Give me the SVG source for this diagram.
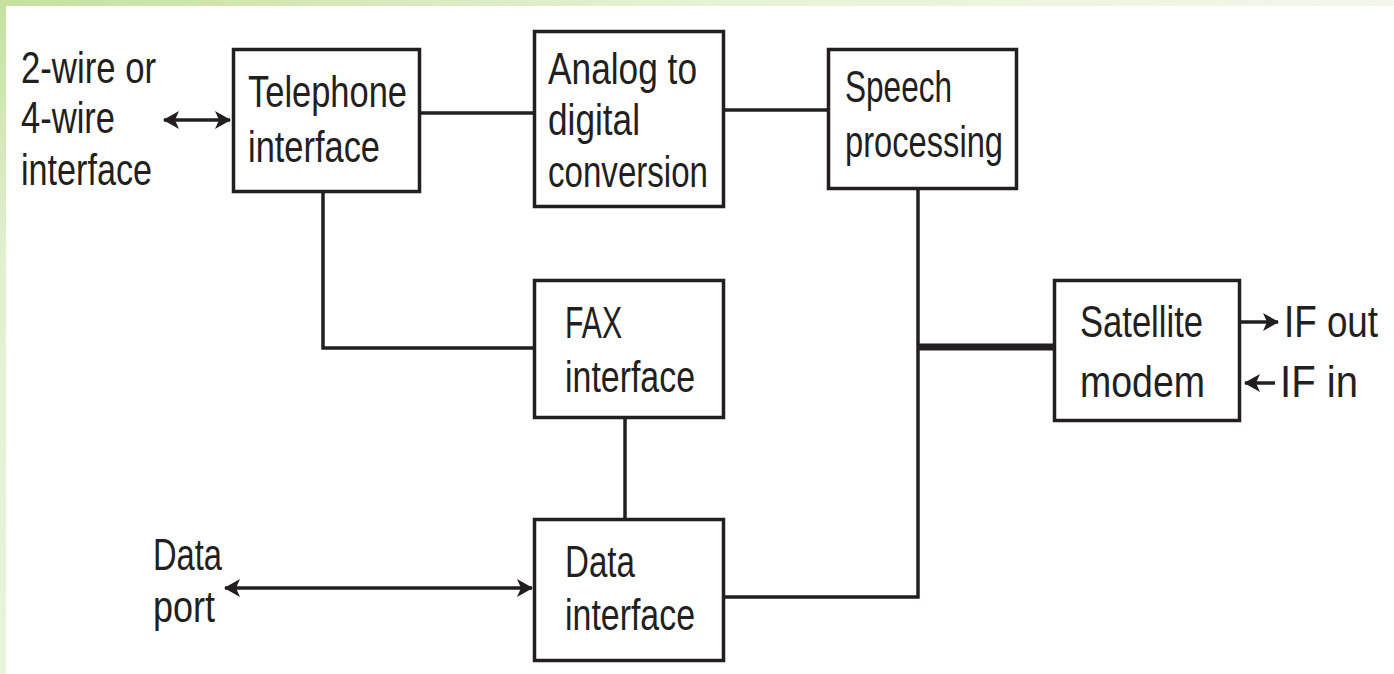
<svg xmlns="http://www.w3.org/2000/svg" width="1394" height="674" viewBox="0 0 1394 674">
<defs>
<style>
.box{fill:#ffffff;stroke:#231f20;stroke-width:3.5}
.ln{fill:none;stroke:#231f20;stroke-width:3.5}
.thick{fill:none;stroke:#231f20;stroke-width:7}
text{font-family:"Liberation Sans",Arial,sans-serif;font-size:44px;fill:#231f20}
</style>
<linearGradient id="gTop" x1="0" y1="0" x2="1" y2="0">
<stop offset="0" stop-color="#c4e29e"/>
<stop offset="0.5" stop-color="#e6f2d4"/>
<stop offset="1" stop-color="#f3f8ea"/>
</linearGradient>
<linearGradient id="gLeft" x1="0" y1="0" x2="0" y2="1">
<stop offset="0" stop-color="#c4e29e"/>
<stop offset="0.4" stop-color="#e2f1d2"/>
<stop offset="1" stop-color="#e8f4dc"/>
</linearGradient>
<marker id="ah" viewBox="0 0 16 18" refX="15" refY="9" markerWidth="16" markerHeight="18" markerUnits="userSpaceOnUse" orient="auto-start-reverse">
<path d="M0,0 L16,9 L0,18 L4,9 Z" fill="#231f20"/>
</marker>
</defs>
<rect x="0" y="0" width="1394" height="674" fill="#ffffff"/>
<rect x="0" y="0" width="1394" height="6" fill="url(#gTop)"/>
<rect x="0" y="0" width="6" height="674" fill="url(#gLeft)"/>

<g id="connectors">
<line class="ln" x1="164" y1="120" x2="230" y2="120" marker-start="url(#ah)" marker-end="url(#ah)"/>
<line class="ln" x1="421" y1="113" x2="533" y2="113"/>
<line class="ln" x1="725" y1="110" x2="827" y2="110"/>
<polyline class="ln" points="323,193 323,348 533,348"/>
<line class="ln" x1="625" y1="419" x2="625" y2="518"/>
<polyline class="ln" points="918,190 918,597 724,597"/>
<line class="thick" x1="918" y1="347" x2="1053" y2="347"/>
<line class="ln" x1="225" y1="588" x2="532" y2="588" marker-start="url(#ah)" marker-end="url(#ah)"/>
<line class="ln" x1="1241" y1="322" x2="1278" y2="322" marker-end="url(#ah)"/>
<line class="ln" x1="1275" y1="383" x2="1245" y2="383" marker-end="url(#ah)"/>
</g>

<g id="label-wire">
<text x="21" y="83" textLength="135" lengthAdjust="spacingAndGlyphs">2-wire or</text>
<text x="21" y="133" textLength="94" lengthAdjust="spacingAndGlyphs">4-wire</text>
<text x="21" y="185" textLength="131" lengthAdjust="spacingAndGlyphs">interface</text>
</g>

<g id="telephone">
<rect class="box" x="233.5" y="49.5" width="186" height="142"/>
<text x="248" y="107" textLength="159" lengthAdjust="spacingAndGlyphs">Telephone</text>
<text x="248" y="162" textLength="132" lengthAdjust="spacingAndGlyphs">interface</text>
</g>

<g id="adc">
<rect class="box" x="534.5" y="31.5" width="189" height="175"/>
<text x="548" y="84" textLength="149" lengthAdjust="spacingAndGlyphs">Analog to</text>
<text x="548" y="135" textLength="92" lengthAdjust="spacingAndGlyphs">digital</text>
<text x="548" y="187" textLength="160" lengthAdjust="spacingAndGlyphs">conversion</text>
</g>

<g id="speech">
<rect class="box" x="828.5" y="49.5" width="188" height="139"/>
<text x="845" y="102" textLength="107" lengthAdjust="spacingAndGlyphs">Speech</text>
<text x="845" y="157" textLength="158" lengthAdjust="spacingAndGlyphs">processing</text>
</g>

<g id="fax">
<rect class="box" x="534.5" y="280.5" width="189" height="137"/>
<text x="565" y="338" textLength="57" lengthAdjust="spacingAndGlyphs">FAX</text>
<text x="565" y="392" textLength="130" lengthAdjust="spacingAndGlyphs">interface</text>
</g>

<g id="data">
<rect class="box" x="534.5" y="519.5" width="189" height="141"/>
<text x="565" y="577" textLength="70" lengthAdjust="spacingAndGlyphs">Data</text>
<text x="565" y="630" textLength="130" lengthAdjust="spacingAndGlyphs">interface</text>
</g>

<g id="label-dataport">
<text x="153" y="570" textLength="69" lengthAdjust="spacingAndGlyphs">Data</text>
<text x="153" y="622" textLength="62" lengthAdjust="spacingAndGlyphs">port</text>
</g>

<g id="satellite">
<rect class="box" x="1054.5" y="280.5" width="185" height="140"/>
<text x="1080" y="337" textLength="123" lengthAdjust="spacingAndGlyphs">Satellite</text>
<text x="1080" y="397" textLength="125" lengthAdjust="spacingAndGlyphs">modem</text>
</g>

<g id="label-if">
<text x="1284" y="337" textLength="94" lengthAdjust="spacingAndGlyphs">IF out</text>
<text x="1280" y="397" textLength="78" lengthAdjust="spacingAndGlyphs">IF in</text>
</g>
</svg>
